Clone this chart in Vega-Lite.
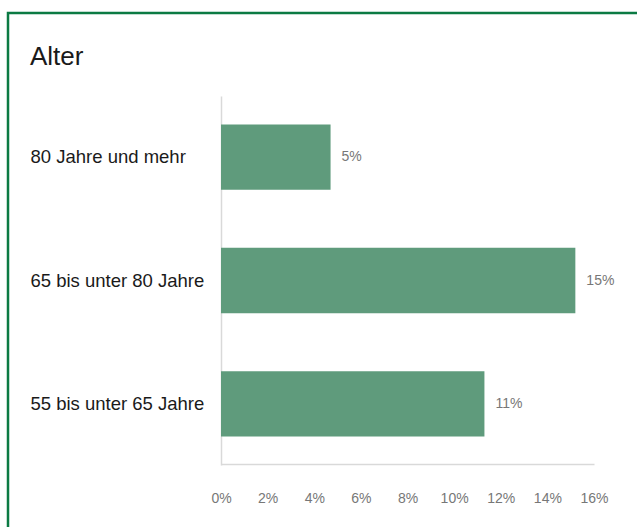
{
  "$schema": "https://vega.github.io/schema/vega-lite/v6.json",
  "autosize": {"type": "none"},
  "padding": {"left": 8, "top": 13, "right": 0, "bottom": 0},
  "width": 640,
  "height": 525,
  "background": "white",
  "title": {
    "text": "Alter",
    "anchor": "start",
    "frame": "group",
    "orient": "top",
    "offset": 0,
    "baseline": "alphabetic",
    "dx": 22,
    "dy": 78,
    "font": "Liberation Sans",
    "fontSize": 26,
    "fontWeight": "normal",
    "color": "#1a1a1a"
  },
  "data": {
    "values": [
      {"group": "80 Jahre und mehr", "share": 0.047},
      {"group": "65 bis unter 80 Jahre", "share": 0.152},
      {"group": "55 bis unter 65 Jahre", "share": 0.113}
    ]
  },
  "encoding": {
    "y": {
      "field": "group",
      "type": "nominal",
      "sort": ["80 Jahre und mehr", "65 bis unter 80 Jahre", "55 bis unter 65 Jahre"],
      "scale": {"range": [83, 452], "paddingInner": 0.47, "paddingOuter": 0.23},
      "axis": {
        "title": null,
        "orient": "left",
        "offset": -213,
        "ticks": false,
        "tickSize": 0,
        "labelAlign": "left",
        "labelPadding": 191,
        "labelLimit": 400,
        "labelFont": "Liberation Sans",
        "labelFontSize": 18.5,
        "labelColor": "#1a1a1a",
        "domainColor": "#d9d9d9",
        "domainWidth": 1.5,
        "grid": false
      }
    },
    "x": {
      "field": "share",
      "type": "quantitative",
      "scale": {"domain": [0, 0.16], "range": [213, 586], "nice": false},
      "axis": {
        "title": null,
        "orient": "bottom",
        "offset": -74,
        "values": [0, 0.02, 0.04, 0.06, 0.08, 0.1, 0.12, 0.14, 0.16],
        "format": ".0%",
        "ticks": false,
        "tickSize": 0,
        "labelFlush": false,
        "labelOverlap": false,
        "labelPadding": 27,
        "labelFont": "Liberation Sans",
        "labelFontSize": 14,
        "labelColor": "#777777",
        "domainColor": "#d9d9d9",
        "domainWidth": 1.5,
        "grid": false
      }
    }
  },
  "layer": [
    {"mark": {"type": "bar", "color": "#5f9b7c"}},
    {
      "mark": {"type": "text", "align": "left", "baseline": "middle", "dx": 11, "font": "Liberation Sans", "fontSize": 14, "color": "#777777"},
      "encoding": {"text": {"field": "share", "type": "quantitative", "format": ".0%"}}
    }
  ],
  "config": {"view": {"stroke": "#0b7a43", "strokeWidth": 2.5}}
}
